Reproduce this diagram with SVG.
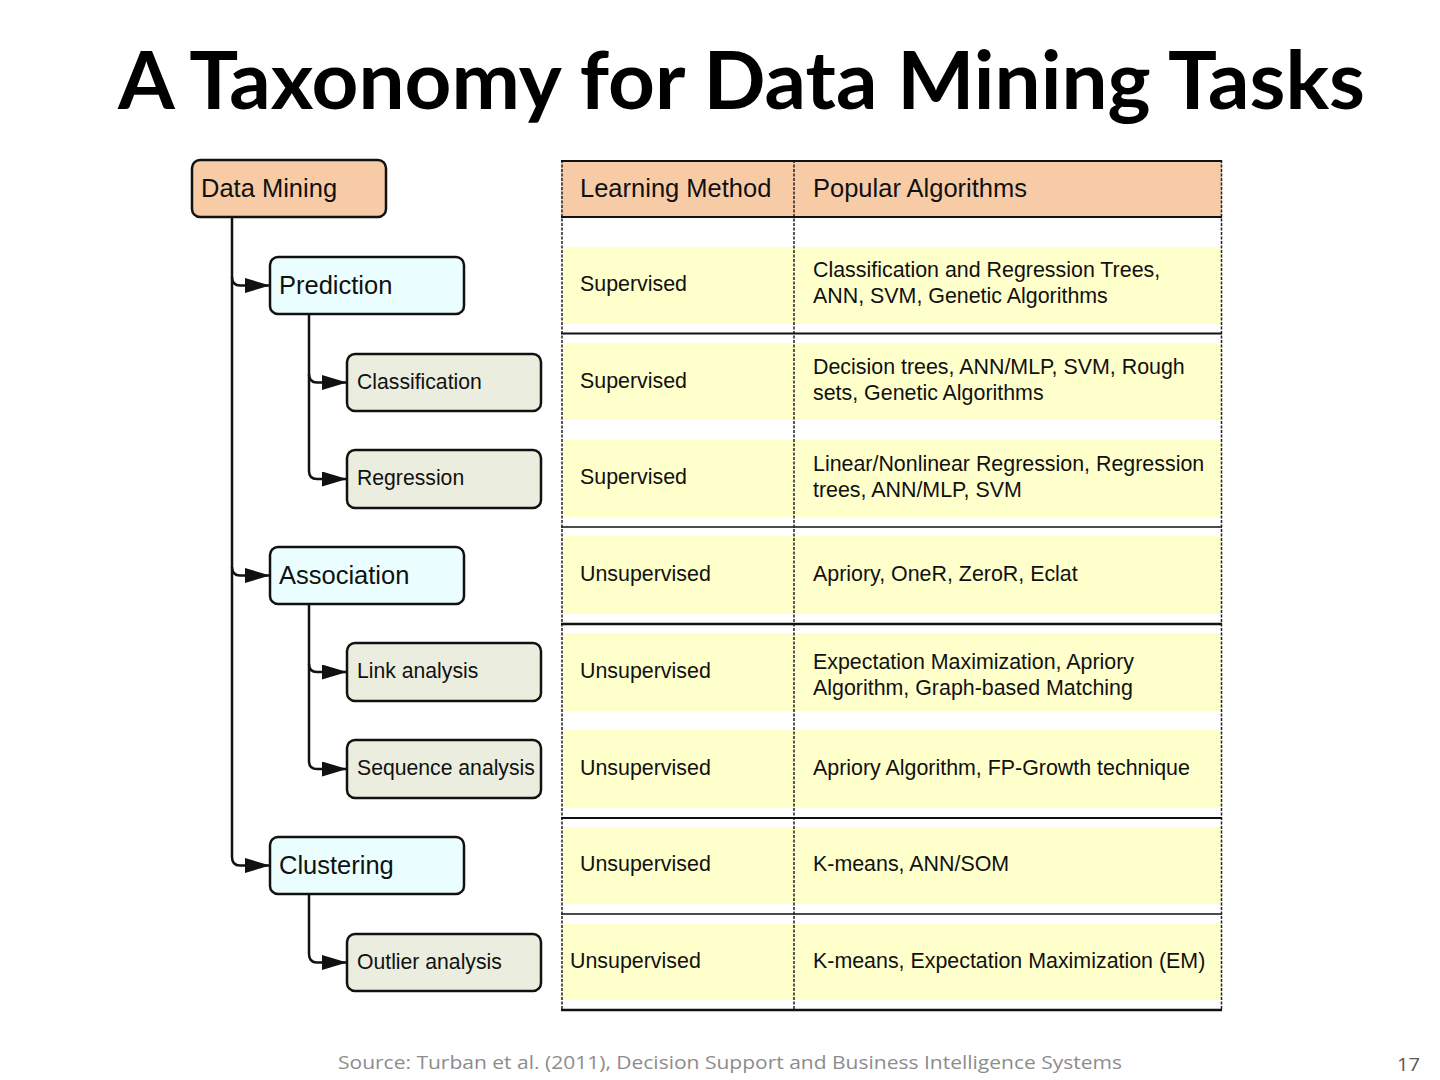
<svg xmlns="http://www.w3.org/2000/svg" width="1440" height="1080" viewBox="0 0 1440 1080">
<style>
.title{font-family:Lato,"Open Sans","Liberation Sans",sans-serif;font-weight:bold;font-size:80px;fill:#000}
.big{font-family:"Liberation Sans",Arial,sans-serif;font-size:25.5px;fill:#111}
.small{font-family:"Liberation Sans",Arial,sans-serif;font-size:21.2px;fill:#111}
.th{font-family:"Liberation Sans",Arial,sans-serif;font-size:25.5px;fill:#111}
.td{font-family:"Liberation Sans",Arial,sans-serif;font-size:21.4px;fill:#111}
.foot{font-family:"Open Sans","Liberation Sans",sans-serif;font-size:19px;fill:#8c8c8c}
.root{fill:#F8CBA7;stroke:#111;stroke-width:2.5}
.l1{fill:#EBFEFF;stroke:#111;stroke-width:2.5}
.l2{fill:#EBEDDF;stroke:#111;stroke-width:2.5}
.conn{fill:none;stroke:#111;stroke-width:2.5}
.band{fill:#FFFFCC}
.hl{stroke:#111}
.dash{stroke:#222;stroke-width:1.5;stroke-dasharray:3,1.5}
</style>
<defs>
<marker id="arr" markerUnits="userSpaceOnUse" markerWidth="26" markerHeight="16" refX="25" refY="7.5" orient="auto">
<path d="M0,0 L25,7.5 L0,15 z" fill="#111"/>
</marker>
</defs>
<rect width="1440" height="1080" fill="#fff"/>
<text class="title" x="118" y="109" textLength="1247" lengthAdjust="spacingAndGlyphs">A Taxonomy for Data Mining Tasks</text>

<g id="table">
<rect x="561" y="160" width="661" height="57" fill="#F8CBA7"/>
<rect class="band" x="563" y="247" width="658" height="77"/>
<rect class="band" x="563" y="343" width="658" height="77"/>
<rect class="band" x="563" y="440" width="658" height="77"/>
<rect class="band" x="563" y="536" width="658" height="78"/>
<rect class="band" x="563" y="633" width="658" height="78"/>
<rect class="band" x="563" y="730" width="658" height="78"/>
<rect class="band" x="563" y="827" width="658" height="77"/>
<rect class="band" x="561" y="924" width="661" height="76"/>
<line class="dash" x1="562" y1="160" x2="562" y2="1010"/>
<line class="dash" x1="1221.5" y1="160" x2="1221.5" y2="1010"/>
<line class="dash" x1="794" y1="160" x2="794" y2="1010"/>
<line class="hl" x1="561" y1="161" x2="1222" y2="161" stroke-width="2"/>
<line class="hl" x1="561" y1="217" x2="1222" y2="217" stroke-width="2"/>
<line class="hl" x1="561" y1="333.5" x2="1222" y2="333.5" stroke-width="2.2"/>
<line class="hl" x1="561" y1="527" x2="1222" y2="527" stroke-width="1.5"/>
<line class="hl" x1="561" y1="624" x2="1222" y2="624" stroke-width="2.5"/>
<line class="hl" x1="561" y1="818" x2="1222" y2="818" stroke-width="2.2"/>
<line class="hl" x1="561" y1="914" x2="1222" y2="914" stroke-width="1.5"/>
<line class="hl" x1="561" y1="1010" x2="1222" y2="1010" stroke-width="2.5"/>
<text class="th" x="580" y="197">Learning Method</text>
<text class="th" x="813" y="197">Popular Algorithms</text>
<text class="td" x="580" y="291">Supervised</text>
<text class="td" x="813" y="277">Classification and Regression Trees,</text>
<text class="td" x="813" y="303">ANN, SVM, Genetic Algorithms</text>
<text class="td" x="580" y="388">Supervised</text>
<text class="td" x="813" y="374">Decision trees, ANN/MLP, SVM, Rough</text>
<text class="td" x="813" y="400">sets, Genetic Algorithms</text>
<text class="td" x="580" y="484">Supervised</text>
<text class="td" x="813" y="471">Linear/Nonlinear Regression, Regression</text>
<text class="td" x="813" y="497">trees, ANN/MLP, SVM</text>
<text class="td" x="580" y="581">Unsupervised</text>
<text class="td" x="813" y="581">Apriory, OneR, ZeroR, Eclat</text>
<text class="td" x="580" y="678">Unsupervised</text>
<text class="td" x="813" y="669">Expectation Maximization, Apriory</text>
<text class="td" x="813" y="695">Algorithm, Graph-based Matching</text>
<text class="td" x="580" y="775">Unsupervised</text>
<text class="td" x="813" y="775">Apriory Algorithm, FP-Growth technique</text>
<text class="td" x="580" y="871">Unsupervised</text>
<text class="td" x="813" y="871">K-means, ANN/SOM</text>
<text class="td" x="570" y="968">Unsupervised</text>
<text class="td" x="813" y="968">K-means, Expectation Maximization (EM)</text>
</g>

<g id="connectors">
<path class="conn" d="M232,217 L232,277 Q232,285.5 240,285.5 L270,285.5" marker-end="url(#arr)"/>
<path class="conn" d="M232,277 L232,567 Q232,575.5 240,575.5 L270,575.5" marker-end="url(#arr)"/>
<path class="conn" d="M232,567 L232,857 Q232,865.5 240,865.5 L270,865.5" marker-end="url(#arr)"/>
<path class="conn" d="M309,314 L309,374 Q309,382.5 317,382.5 L347,382.5" marker-end="url(#arr)"/>
<path class="conn" d="M309,374 L309,471 Q309,479 317,479 L347,479" marker-end="url(#arr)"/>
<path class="conn" d="M309,604 L309,664 Q309,672 317,672 L347,672" marker-end="url(#arr)"/>
<path class="conn" d="M309,664 L309,761 Q309,769 317,769 L347,769" marker-end="url(#arr)"/>
<path class="conn" d="M309,894 L309,954 Q309,962.5 317,962.5 L347,962.5" marker-end="url(#arr)"/>
</g>

<g id="n-datamining"><rect class="root" x="192" y="160" width="194" height="57" rx="8"/><text class="big" x="201" y="197">Data Mining</text></g>
<g id="n-prediction"><rect class="l1" x="270" y="257" width="194" height="57" rx="8"/><text class="big" x="279" y="294">Prediction</text></g>
<g id="n-classification"><rect class="l2" x="347" y="354" width="194" height="57" rx="8"/><text class="small" x="357" y="389">Classification</text></g>
<g id="n-regression"><rect class="l2" x="347" y="450" width="194" height="58" rx="8"/><text class="small" x="357" y="485">Regression</text></g>
<g id="n-association"><rect class="l1" x="270" y="547" width="194" height="57" rx="8"/><text class="big" x="279" y="584">Association</text></g>
<g id="n-link"><rect class="l2" x="347" y="643" width="194" height="58" rx="8"/><text class="small" x="357" y="678">Link analysis</text></g>
<g id="n-sequence"><rect class="l2" x="347" y="740" width="194" height="58" rx="8"/><text class="small" x="357" y="775">Sequence analysis</text></g>
<g id="n-clustering"><rect class="l1" x="270" y="837" width="194" height="57" rx="8"/><text class="big" x="279" y="874">Clustering</text></g>
<g id="n-outlier"><rect class="l2" x="347" y="934" width="194" height="57" rx="8"/><text class="small" x="357" y="969">Outlier analysis</text></g>

<text class="foot" x="338" y="1069" textLength="784" lengthAdjust="spacingAndGlyphs">Source:  Turban et al. (2011), Decision Support and Business Intelligence Systems</text>
<text class="foot" x="1397" y="1071" style="fill:#595959" textLength="23" lengthAdjust="spacingAndGlyphs">17</text>
</svg>
